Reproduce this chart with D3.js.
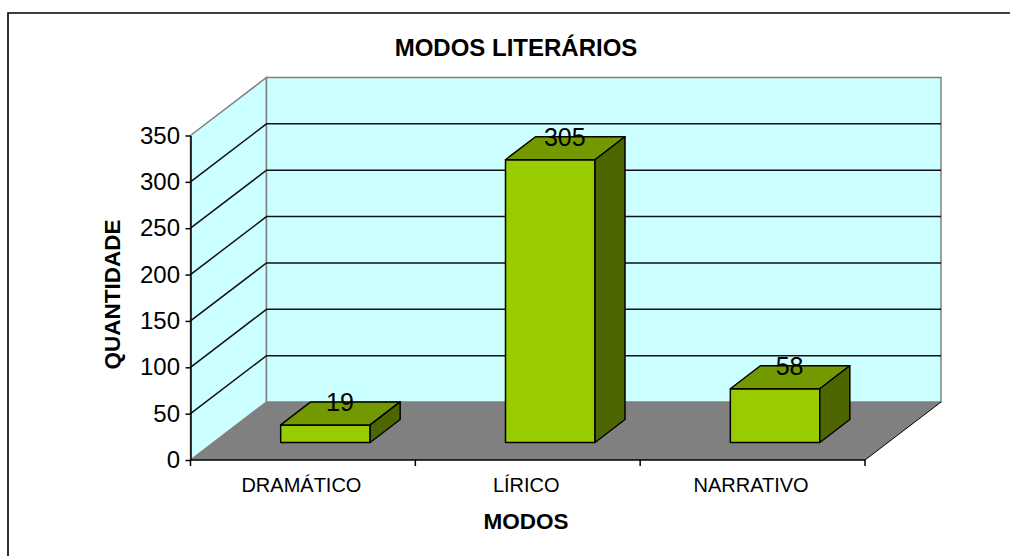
<!DOCTYPE html>
<html lang="en">
<head>
    <meta charset="utf-8">
    <title>Modos literarios</title>
    <script src="https://d3js.org/d3.v7.min.js"></script>
    <style>
        html, body { margin: 0; padding: 0; background: white; }
        svg { display: block; }
        text { font-family: "Liberation Sans", Arial, sans-serif; fill: #000; }
        .axis path { stroke: #000; stroke-width: 1.5px; }
        .axis line { stroke: #000; stroke-width: 1.5px; }
    </style>
</head>
<body>
    <div id="chart"></div>
    <script>
        const categories = ["DRAMÁTICO", "LÍRICO", "NARRATIVO"];
        const values = [19, 305, 58];
        const yTicks = [0, 50, 100, 150, 200, 250, 300, 350];

        const width = 1010;
        const height = 556;

        // front plane of the 3D box and how far the back wall is shifted
        const plot = {left: 190.5, right: 865, bottom: 460, top: 135.5};
        const depth = {x: 76, y: -58};
        // bars sit in the middle of the floor depth
        const barDepth = {x: 30, y: -23};
        const barShift = {x: 23, y: -17.5};

        const svg = d3.select("#chart")
            .append("svg")
            .attr("width", width)
            .attr("height", height);

        const x = d3.scaleBand()
            .domain(categories)
            .range([plot.left, plot.right])
            .paddingInner(0)
            .paddingOuter(0);

        const y = d3.scaleLinear()
            .domain([0, 350])
            .range([plot.bottom, plot.top]);

        const poly = pts => pts.map(p => p.join(",")).join(" ");

        // outer frame, only left and top are inside the picture
        svg.append("polyline")
            .attr("points", poly([[8, height], [8, 13], [width, 13]]))
            .attr("fill", "none")
            .attr("stroke", "black")
            .attr("stroke-width", 1.6);

        // side wall
        svg.append("polygon")
            .attr("points", poly([
                [plot.left, y(350)], [plot.left + depth.x, y(350) + depth.y],
                [plot.left + depth.x, y(0) + depth.y], [plot.left, y(0)]
            ]))
            .attr("fill", "#ccffff")
            .attr("stroke", "#808080")
            .attr("stroke-width", 1.5);

        // back wall
        svg.append("rect")
            .attr("x", plot.left + depth.x)
            .attr("y", y(350) + depth.y)
            .attr("width", plot.right - plot.left)
            .attr("height", y(0) - y(350))
            .attr("fill", "#ccffff")
            .attr("stroke", "#808080")
            .attr("stroke-width", 1.5);

        // floor
        svg.append("polygon")
            .attr("points", poly([
                [plot.left, y(0)], [plot.left + depth.x, y(0) + depth.y],
                [plot.right + depth.x, y(0) + depth.y], [plot.right, y(0)]
            ]))
            .attr("fill", "#808080");

        svg.append("line")
            .attr("x1", plot.right).attr("y1", y(0))
            .attr("x2", plot.right + depth.x).attr("y2", y(0) + depth.y)
            .attr("stroke", "black");

        // gridlines, side wall then back wall
        const grid = svg.append("g").attr("class", "grid");
        yTicks.filter(d => d > 0 && d < 350).forEach(d => {
            grid.append("polyline")
                .attr("points", poly([
                    [plot.left, y(d)],
                    [plot.left + depth.x, y(d) + depth.y],
                    [plot.right + depth.x, y(d) + depth.y]
                ]))
                .attr("fill", "none")
                .attr("stroke", "#111")
                .attr("stroke-width", 1.5);
        });

        // bars
        const barWidth = 89.5;
        const bars = svg.append("g")
            .selectAll("g")
            .data(categories)
            .enter()
            .append("g")
            .attr("stroke", "black")
            .attr("stroke-width", 1.5)
            .attr("stroke-linejoin", "round");

        const bx0 = c => x(c) + (x.bandwidth() - barWidth) / 2 + barShift.x - 0.5;
        const by = v => y(v) + barShift.y;

        bars.append("rect")
            .attr("x", bx0)
            .attr("y", (c, i) => by(values[i]))
            .attr("width", barWidth)
            .attr("height", (c, i) => y(0) - y(values[i]))
            .attr("fill", "#99cc00");

        bars.append("polygon")
            .attr("points", (c, i) => poly([
                [bx0(c), by(values[i])],
                [bx0(c) + barDepth.x, by(values[i]) + barDepth.y],
                [bx0(c) + barWidth + barDepth.x, by(values[i]) + barDepth.y],
                [bx0(c) + barWidth, by(values[i])]
            ]))
            .attr("fill", "#739900");

        bars.append("polygon")
            .attr("points", (c, i) => poly([
                [bx0(c) + barWidth, by(values[i])],
                [bx0(c) + barWidth + barDepth.x, by(values[i]) + barDepth.y],
                [bx0(c) + barWidth + barDepth.x, by(0) + barDepth.y],
                [bx0(c) + barWidth, by(0)]
            ]))
            .attr("fill", "#4d6600");

        // value labels
        svg.append("g")
            .selectAll("text")
            .data(values)
            .enter()
            .append("text")
            .attr("x", (d, i) => bx0(categories[i]) + barWidth / 2 + 14.5)
            .attr("y", d => by(d) - 14)
            .attr("text-anchor", "middle")
            .style("font-size", "25px")
            .text(d => d);

        // axes
        const yAxis = d3.axisLeft(y).tickValues(yTicks).tickSize(5).tickSizeOuter(0);
        svg.append("g")
            .attr("class", "axis y")
            .attr("transform", `translate(${plot.left}, 0)`)
            .call(yAxis)
            .selectAll("text")
            .attr("dx", "-2.5")
            .style("font-family", '"Liberation Sans", Arial, sans-serif')
            .style("font-size", "24px");

        const xTickPos = d3.scaleLinear().domain([0, 3]).range([plot.left, plot.right]);
        const xAxisLine = svg.append("g").attr("class", "axis x");
        xAxisLine.append("line")
            .attr("x1", plot.left).attr("x2", plot.right)
            .attr("y1", plot.bottom).attr("y2", plot.bottom);
        d3.range(4).forEach(i => {
            xAxisLine.append("line")
                .attr("x1", xTickPos(i)).attr("x2", xTickPos(i))
                .attr("y1", plot.bottom).attr("y2", plot.bottom + 6);
        });

        svg.append("g")
            .selectAll("text")
            .data(categories)
            .enter()
            .append("text")
            .attr("x", c => x(c) + x.bandwidth() / 2 - 1.5)
            .attr("y", 492)
            .attr("text-anchor", "middle")
            .style("font-size", "20px")
            .text(c => c);

        // titles
        svg.append("text")
            .attr("x", 516).attr("y", 56)
            .attr("text-anchor", "middle")
            .attr("font-weight", "bold")
            .style("font-size", "24px")
            .text("MODOS LITERÁRIOS");

        svg.append("text")
            .attr("x", 526).attr("y", 529)
            .attr("text-anchor", "middle")
            .attr("font-weight", "bold")
            .style("font-size", "22.5px")
            .text("MODOS");

        svg.append("text")
            .attr("transform", "translate(120, 294.5) rotate(-90)")
            .attr("text-anchor", "middle")
            .attr("font-weight", "bold")
            .style("font-size", "22.5px")
            .text("QUANTIDADE");
    </script>
</body>
</html>
